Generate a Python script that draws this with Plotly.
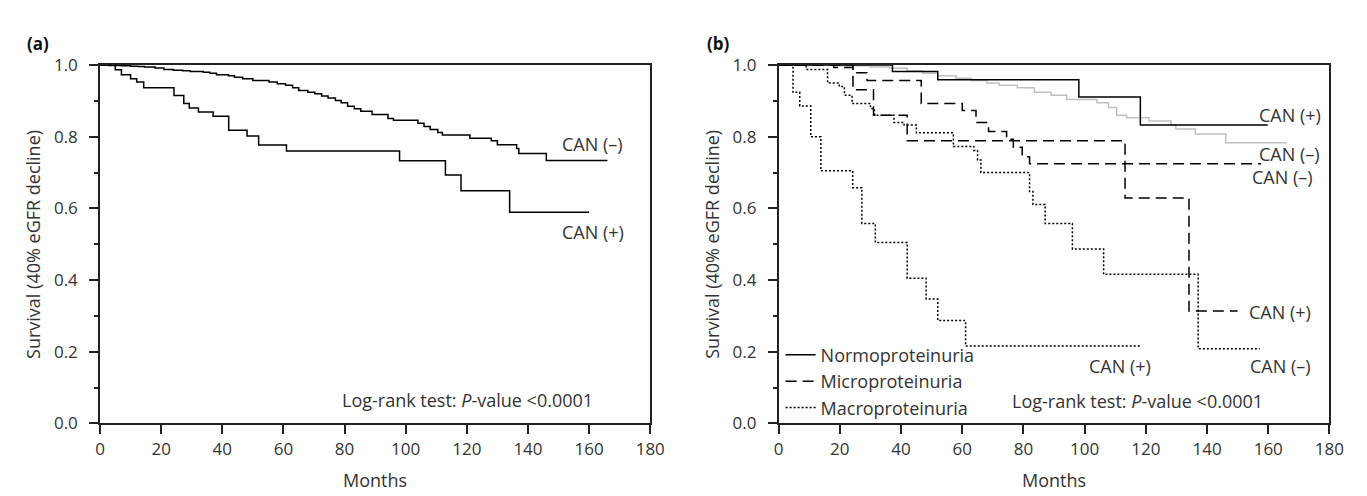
import plotly.graph_objects as go

# ---------------- data ----------------
# Panel (a): CAN (-) and CAN (+)
a_neg_t = [0, 3, 7, 10, 12.4, 14.5, 18, 20.9, 24, 27, 29.5, 33.8, 36, 38.1, 42, 44, 46.7, 50, 55.3, 58,
           60.7, 63, 65, 68, 70.3, 72.5, 74.6, 77, 78.9, 81, 83.2, 85.3, 89, 94.2, 96, 104, 106, 108,
           110.5, 112, 121, 128, 130, 136.3, 137, 146, 166]
a_neg_s = [1.0, 0.999, 0.998, 0.997, 0.996, 0.995, 0.992, 0.988, 0.986, 0.984, 0.982, 0.980, 0.977, 0.973,
           0.970, 0.966, 0.962, 0.957, 0.953, 0.948, 0.944, 0.937, 0.929, 0.924, 0.920, 0.914, 0.908,
           0.901, 0.895, 0.885, 0.878, 0.871, 0.862, 0.851, 0.846, 0.838, 0.829, 0.820, 0.812, 0.805,
           0.796, 0.789, 0.778, 0.767, 0.753, 0.734, 0.734]
a_pos_t = [0, 5, 7, 10, 12, 14.3, 24.2, 27.4, 29.2, 32.2, 37, 42.1, 48.1, 51.9, 61, 98, 113, 118.1, 134, 160]
a_pos_s = [1.0, 0.987, 0.973, 0.962, 0.953, 0.937, 0.915, 0.893, 0.880, 0.869, 0.857, 0.818, 0.802, 0.777,
           0.760, 0.733, 0.693, 0.649, 0.589, 0.589]

# Panel (b)
normo_pos_t = [0, 37.2, 52, 98.1, 118.2, 159.8]
normo_pos_s = [1.0, 0.982, 0.959, 0.911, 0.833, 0.833]
normo_neg_t = [0, 18, 30, 36.4, 42, 47, 52, 58, 63, 68, 72, 78, 83.6, 89, 94.1, 104, 107.8, 110.5, 113.7,
               121, 128.2, 129.8, 136.2, 146.1, 166]
normo_neg_s = [1.0, 0.998, 0.995, 0.991, 0.984, 0.977, 0.970, 0.963, 0.957, 0.950, 0.944, 0.937, 0.924,
               0.916, 0.904, 0.895, 0.882, 0.860, 0.853, 0.844, 0.833, 0.822, 0.808, 0.783, 0.783]
micro_pos_t = [0, 24.3, 31, 42, 113.2, 134.1, 150]
micro_pos_s = [1.0, 0.931, 0.860, 0.789, 0.629, 0.314, 0.314]
micro_neg_t = [0, 18, 24.3, 28.9, 46.6, 60, 64.5, 68.6, 74.5, 76.7, 79.6, 82, 157.7]
micro_neg_s = [1.0, 0.993, 0.979, 0.957, 0.893, 0.873, 0.840, 0.815, 0.793, 0.771, 0.744, 0.725, 0.725]
macro_pos_t = [0, 4.7, 6.9, 10.5, 13.8, 24.2, 27.2, 31.6, 42, 48.2, 52, 61.1, 118.3]
macro_pos_s = [1.0, 0.924, 0.886, 0.800, 0.705, 0.658, 0.558, 0.505, 0.405, 0.347, 0.287, 0.216, 0.216]
macro_neg_t = [0, 9, 16, 19.8, 21.5, 24, 30, 31.3, 37.7, 41, 45, 57.1, 63.8, 65, 66.1, 82, 83.1, 87.1,
               96, 106.2, 137.1, 157.2]
macro_neg_s = [1.0, 0.988, 0.950, 0.940, 0.916, 0.893, 0.879, 0.860, 0.840, 0.833, 0.811, 0.773, 0.762,
               0.735, 0.700, 0.647, 0.611, 0.558, 0.487, 0.416, 0.208, 0.208]

x_ticks = [0, 20, 40, 60, 80, 100, 120, 140, 160, 180]
y_ticks = [0.0, 0.2, 0.4, 0.6, 0.8, 1.0]
y_tick_text = ["0.0", "0.2", "0.4", "0.6", "0.8", "1.0"]

group_names = ["Normoproteinuria", "Microproteinuria", "Macroproteinuria"]
y_title = "Survival (40% eGFR decline)"
x_title = "Months"
logrank = "Log-rank test: <i>P</i>-value <0.0001"

# ---------------- styling ----------------
FONT = "Open Sans"
TXT = "#333333"
AX = "#222222"
LW = 1.5
DASH = "11px,6px"
DOT = "2px,2px"

fig = go.Figure()

def add(t, s, xa, ya, color="black", dash="solid", name=None, show=False):
    fig.add_trace(go.Scatter(x=t, y=s, mode="lines", line=dict(shape="hv", color=color, width=LW, dash=dash),
                             xaxis=xa, yaxis=ya, name=name, showlegend=show, hoverinfo="skip"))

add(a_neg_t, a_neg_s, "x", "y")
add(a_pos_t, a_pos_s, "x", "y")

add(normo_neg_t, normo_neg_s, "x2", "y2", color="#c0c0c0")
add(normo_pos_t, normo_pos_s, "x2", "y2", name=group_names[0], show=True)
add(micro_neg_t, micro_neg_s, "x2", "y2", dash=DASH)
add(micro_pos_t, micro_pos_s, "x2", "y2", dash=DASH, name=group_names[1], show=True)
add(macro_neg_t, macro_neg_s, "x2", "y2", dash=DOT)
add(macro_pos_t, macro_pos_s, "x2", "y2", dash=DOT, name=group_names[2], show=True)

W, H = 1367, 496
dom_a = [88.3 / W, 646.7 / W]
dom_b = [777.0 / W, 1336.0 / W]
dom_y = [1 - 423.0 / H, 1 - 47.3 / H]

def xaxis(dom, anchor):
    return dict(domain=dom, anchor=anchor, range=[0, 180], tickvals=x_ticks, ticks="outside", ticklen=9,
                tickwidth=1.5, tickcolor=AX, showline=True, linecolor=AX, linewidth=1.5, mirror=True,
                showgrid=False, zeroline=False, ticklabelstandoff=0,
                tickfont=dict(family=FONT, size=17, color=TXT))

def yaxis(anchor):
    return dict(domain=dom_y, anchor=anchor, range=[0, 1], tickvals=y_ticks, ticktext=y_tick_text,
                ticks="outside", ticklen=9, tickwidth=1.5, tickcolor=AX, showline=True, linecolor=AX,
                linewidth=1.5, mirror=True, showgrid=False, zeroline=False, ticklabelstandoff=8,
                minor=dict(dtick=0.1, ticks="outside", ticklen=4, tickwidth=1.5, tickcolor=AX, showgrid=False),
                tickfont=dict(family=FONT, size=17, color=TXT))

fig.update_layout(
    width=W, height=H, margin=dict(l=0, r=0, t=0, b=0),
    paper_bgcolor="white", plot_bgcolor="white",
    font=dict(family=FONT, color=TXT, size=18),
    xaxis=xaxis(dom_a, "y"), yaxis=yaxis("x"),
    xaxis2=xaxis(dom_b, "y2"), yaxis2=yaxis("x2"),
    legend=dict(x=779 / W, y=1 - 332 / H, xanchor="left", yanchor="top", bgcolor="rgba(0,0,0,0)",
                font=dict(family=FONT, size=18, color=TXT), tracegroupgap=0),
)

ann = []
def label(text, x, y, xr, yr, xanchor="center", size=18):
    ann.append(dict(text=text, x=x, y=y, xref=xr, yref=yr, showarrow=False, xanchor=xanchor, yanchor="middle",
                    font=dict(family=FONT, size=size, color=TXT)))

# panel a labels
label("CAN (–)", 161.2, 0.780, "x", "y")
label("CAN (+)", 161.2, 0.533, "x", "y")
label(logrank, 162, 0.066, "x", "y", xanchor="right")
# panel b labels
label("CAN (+)", 167, 0.860, "x2", "y2")
label("CAN (–)", 167, 0.753, "x2", "y2")
label("CAN (–)", 164.6, 0.689, "x2", "y2")
label("CAN (+)", 164, 0.310, "x2", "y2")
label("CAN (+)", 111.5, 0.159, "x2", "y2")
label("CAN (–)", 164, 0.159, "x2", "y2")
label(logrank, 158.8, 0.063, "x2", "y2", xanchor="right")

# axis titles
for xc, dom in ((21, dom_a), (710, dom_b)):
    ann.append(dict(text=y_title, x=xc / W, y=(dom_y[0] + dom_y[1]) / 2, xref="paper", yref="paper",
                    showarrow=False, textangle=-90, xanchor="center", yanchor="middle",
                    font=dict(family=FONT, size=18, color=TXT)))
    ann.append(dict(text=x_title, x=(dom[0] + dom[1]) / 2, y=1 - 482 / H, xref="paper", yref="paper",
                    showarrow=False, xanchor="center", yanchor="middle",
                    font=dict(family=FONT, size=18, color=TXT)))

# panel letters
for txt, xp in (("<b>(a)</b>", 12), ("<b>(b)</b>", 702)):
    ann.append(dict(text=txt, x=xp / W, y=1 - 10 / H, xref="paper", yref="paper", showarrow=False,
                    xanchor="left", yanchor="top", font=dict(family=FONT, size=17, color="#111111")))

fig.update_layout(annotations=ann)
fig.write_html("out.html")
